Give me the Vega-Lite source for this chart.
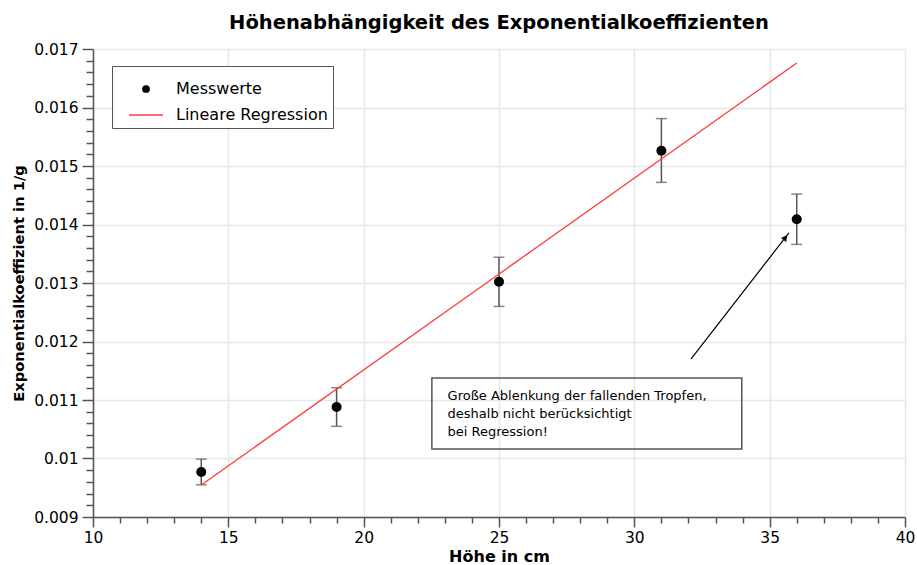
{
  "$schema": "https://vega.github.io/schema/vega-lite/v6.json",
  "width": 812,
  "height": 468,
  "autosize": "none",
  "padding": {"left": 93, "top": 49, "right": 12, "bottom": 48},
  "background": "white",
  "title": {"text": "Höhenabhängigkeit des Exponentialkoeffizienten", "font": "DejaVu Sans", "fontSize": 19.5, "fontWeight": "bold", "anchor": "middle", "offset": 9, "color": "black"},
  "config": {
    "view": {"stroke": null},
    "axis": {"labelFont": "DejaVu Sans", "labelFontSize": 15.5, "labelColor": "black", "titleFont": "DejaVu Sans", "titleFontWeight": "bold", "titleColor": "black", "domainColor": "#555", "domainWidth": 1.5, "tickColor": "#555", "tickWidth": 1.5, "gridColor": "#e8e8e8", "gridWidth": 1.5}
  },
  "datasets": {
    "mess": [
      {"hoehe": 14, "k": 0.00977, "lo": 0.00955, "hi": 0.00999},
      {"hoehe": 19, "k": 0.01088, "lo": 0.01055, "hi": 0.01121},
      {"hoehe": 25, "k": 0.01302, "lo": 0.01260, "hi": 0.01344},
      {"hoehe": 31, "k": 0.01526, "lo": 0.01472, "hi": 0.01581},
      {"hoehe": 36, "k": 0.01409, "lo": 0.01366, "hi": 0.01452}
    ],
    "reg": [
      {"hoehe": 14, "k": 0.009547},
      {"hoehe": 36, "k": 0.01676}
    ],
    "arrow": [
      {"hoehe": 32.09, "k": 0.0117},
      {"hoehe": 35.71, "k": 0.013855}
    ],
    "arrowhead": [
      {"hoehe": 35.58, "k": 0.013775}
    ],
    "box": [
      {"x1": 22.52, "x2": 33.97, "y1": 0.011376, "y2": 0.010162}
    ],
    "note": [
      {"hoehe": 23.1, "k": 0.011068, "t": "Große Ablenkung der fallenden Tropfen,"},
      {"hoehe": 23.1, "k": 0.010761, "t": "deshalb nicht berücksichtigt"},
      {"hoehe": 23.1, "k": 0.010453, "t": "bei Regression!"}
    ]
  },
  "layer": [
    {
      "data": {"name": "mess"},
      "mark": {"type": "errorbar", "ticks": {"size": 11}, "color": "#555", "thickness": 1.5},
      "encoding": {
        "x": {"field": "hoehe", "type": "quantitative", "scale": {"domain": [10, 40], "nice": false, "zero": false},
          "axis": {"orient": "bottom", "title": "Höhe in cm", "titleFontSize": 16, "values": [10, 15, 20, 25, 30, 35, 40], "format": "d", "tickSize": 10, "labelPadding": 3, "titlePadding": 3, "grid": true, "labelFlush": false}},
        "y": {"field": "lo", "type": "quantitative", "scale": {"domain": [0.009, 0.017], "nice": false, "zero": false},
          "axis": {"orient": "left", "title": "Exponentialkoeffizient in 1/g", "titleFontSize": 14.7, "values": [0.009, 0.010, 0.011, 0.012, 0.013, 0.014, 0.015, 0.016, 0.017], "format": ".3~f", "tickSize": 11, "labelPadding": 4, "titlePadding": 7, "grid": true, "labelFlush": false}},
        "y2": {"field": "hi"}
      }
    },
    {
      "data": {"name": "mess"},
      "mark": {"type": "point", "filled": true, "size": 100, "opacity": 1},
      "encoding": {
        "x": {"field": "hoehe", "type": "quantitative",
          "axis": {"orient": "bottom", "title": null, "values": [11, 12, 13, 14, 16, 17, 18, 19, 21, 22, 23, 24, 26, 27, 28, 29, 31, 32, 33, 34, 36, 37, 38, 39], "labels": false, "tickSize": 6, "grid": false, "domain": false}},
        "y": {"field": "k", "type": "quantitative",
          "axis": {"orient": "left", "title": null, "values": [0.0092, 0.0094, 0.0096, 0.0098, 0.0102, 0.0104, 0.0106, 0.0108, 0.0112, 0.0114, 0.0116, 0.0118, 0.0122, 0.0124, 0.0126, 0.0128, 0.0132, 0.0134, 0.0136, 0.0138, 0.0142, 0.0144, 0.0146, 0.0148, 0.0152, 0.0154, 0.0156, 0.0158, 0.0162, 0.0164, 0.0166, 0.0168], "labels": false, "tickSize": 7, "grid": false, "domain": false}},
        "color": {"datum": "Messwerte", "type": "nominal",
          "scale": {"domain": ["Messwerte", "Lineare Regression"], "range": ["black", "#ff3b3b"]},
          "legend": {"title": null, "orient": "none", "legendX": 19, "legendY": 17, "padding": 5, "strokeColor": "#555", "fillColor": "white", "labelFont": "DejaVu Sans", "labelFontSize": 16, "labelColor": "black", "labelOffset": 12, "rowPadding": -13, "symbolOffset": 11,
            "symbolType": {"expr": "datum.value === 'Messwerte' ? 'circle' : 'stroke'"},
            "symbolSize": {"expr": "datum.value === 'Messwerte' ? 60 : 1156"},
            "symbolFillColor": {"expr": "datum.value === 'Messwerte' ? 'black' : 'transparent'"},
            "symbolStrokeColor": {"expr": "datum.value === 'Messwerte' ? 'transparent' : '#ff3b3b'"},
            "symbolStrokeWidth": 1.5,
            "symbolOpacity": 1}
        }
      }
    },
    {
      "data": {"name": "reg"},
      "mark": {"type": "line", "strokeWidth": 1.3, "color": "#ff3b3b"},
      "encoding": {
        "x": {"field": "hoehe", "type": "quantitative", "axis": null},
        "y": {"field": "k", "type": "quantitative", "axis": null}
      }
    },
    {
      "data": {"name": "arrow"},
      "mark": {"type": "line", "color": "black", "strokeWidth": 1.2},
      "encoding": {
        "x": {"field": "hoehe", "type": "quantitative", "axis": null},
        "y": {"field": "k", "type": "quantitative", "axis": null}
      }
    },
    {
      "data": {"name": "arrowhead"},
      "mark": {"type": "point", "shape": "triangle-up", "filled": true, "color": "black", "size": 45, "angle": 38, "opacity": 1},
      "encoding": {
        "x": {"field": "hoehe", "type": "quantitative", "axis": null},
        "y": {"field": "k", "type": "quantitative", "axis": null}
      }
    },
    {
      "data": {"name": "box"},
      "mark": {"type": "rect", "fill": null, "stroke": "#555", "strokeWidth": 1.5},
      "encoding": {
        "x": {"field": "x1", "type": "quantitative", "axis": null},
        "x2": {"field": "x2"},
        "y": {"field": "y1", "type": "quantitative", "axis": null},
        "y2": {"field": "y2"}
      }
    },
    {
      "data": {"name": "note"},
      "mark": {"type": "text", "align": "left", "baseline": "middle", "font": "DejaVu Sans", "fontSize": 13, "color": "black"},
      "encoding": {
        "x": {"field": "hoehe", "type": "quantitative", "axis": null},
        "y": {"field": "k", "type": "quantitative", "axis": null},
        "text": {"field": "t"}
      }
    }
  ],
  "resolve": {"axis": {"x": "independent", "y": "independent"}}
}
